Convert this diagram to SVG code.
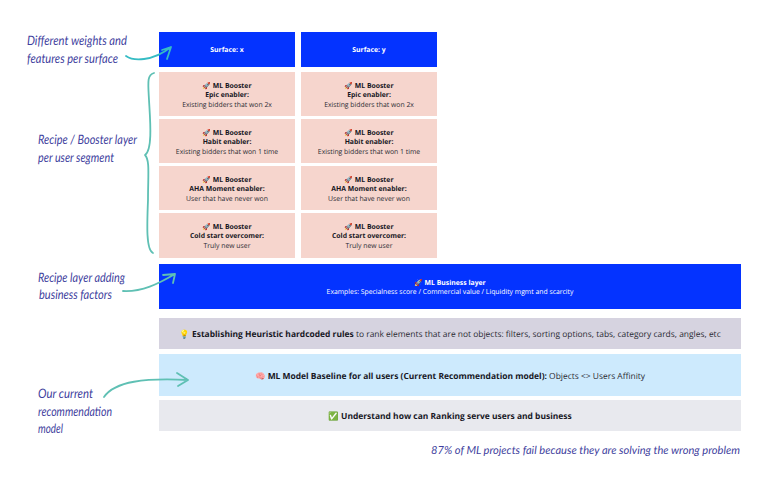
<svg xmlns="http://www.w3.org/2000/svg" width="768" height="488" viewBox="0 0 768 488">
<style>
text{font-family:"Open Sans","Noto Sans",sans-serif;text-anchor:middle;font-size:6.85px;fill:#2b2b33;text-rendering:geometricPrecision}
.b{font-weight:700;fill:#17171f}
.w{fill:#fff}
.l{font-size:8.45px}
.h{font-family:"Lato","Liberation Sans",sans-serif;font-style:italic;font-size:13px;fill:#3f3f9e;text-anchor:start}
.blue{fill:#0433ff}.pink{fill:#f6d5cd}
.c{fill:none;stroke:#5fc0b4;stroke-width:1.8;stroke-linecap:round;stroke-linejoin:round}
</style>
<rect width="768" height="488" fill="#fff"/>
<g id="surface-x"><rect class="blue" x="159" y="32" width="136" height="35"/><text class="b w" x="227" y="52">Surface: x</text></g>
<g id="surface-y"><rect class="blue" x="301" y="32" width="136" height="35"/><text class="b w" x="369" y="52">Surface: y</text></g>
<g id="x-epic"><rect class="pink" x="159" y="72" width="136" height="44"/><text class="b" x="227" y="87.500">🚀 ML Booster</text><text class="b" x="227" y="97">Epic enabler:</text><text x="227" y="106.500">Existing bidders that won 2x</text></g>
<g id="y-epic"><rect class="pink" x="301" y="72" width="136" height="44"/><text class="b" x="369" y="87.500">🚀 ML Booster</text><text class="b" x="369" y="97">Epic enabler:</text><text x="369" y="106.500">Existing bidders that won 2x</text></g>
<g id="x-habit"><rect class="pink" x="159" y="119" width="136" height="44"/><text class="b" x="227" y="134.500">🚀 ML Booster</text><text class="b" x="227" y="144">Habit enabler:</text><text x="227" y="153.500">Existing bidders that won 1 time</text></g>
<g id="y-habit"><rect class="pink" x="301" y="119" width="136" height="44"/><text class="b" x="369" y="134.500">🚀 ML Booster</text><text class="b" x="369" y="144">Habit enabler:</text><text x="369" y="153.500">Existing bidders that won 1 time</text></g>
<g id="x-aha"><rect class="pink" x="159" y="166" width="136" height="44"/><text class="b" x="227" y="181.500">🚀 ML Booster</text><text class="b" x="227" y="191">AHA Moment enabler:</text><text x="227" y="200.500">User that have never won</text></g>
<g id="y-aha"><rect class="pink" x="301" y="166" width="136" height="44"/><text class="b" x="369" y="181.500">🚀 ML Booster</text><text class="b" x="369" y="191">AHA Moment enabler:</text><text x="369" y="200.500">User that have never won</text></g>
<g id="x-cold"><rect class="pink" x="159" y="213" width="136" height="45"/><text class="b" x="227" y="228.500">🚀 ML Booster</text><text class="b" x="227" y="238">Cold start overcomer:</text><text x="227" y="247.500">Truly new user</text></g>
<g id="y-cold"><rect class="pink" x="301" y="213" width="136" height="45"/><text class="b" x="369" y="228.500">🚀 ML Booster</text><text class="b" x="369" y="238">Cold start overcomer:</text><text x="369" y="247.500">Truly new user</text></g>
<g id="business"><rect class="blue" x="159" y="264" width="582" height="45"/><text class="b w" x="450" y="284.500">🚀 ML Business layer</text><text class="w" x="450" y="293.500">Examples: Specialness score / Commercial value / Liquidity mgmt and scarcity</text></g>
<g id="heuristic"><rect x="159" y="318" width="582" height="31" fill="#d6d3e0"/><text class="l" x="450" y="336.500"><tspan>💡 </tspan><tspan class="b">Establishing Heuristic hardcoded rules</tspan> to rank elements that are not objects: filters, sorting options, tabs, category cards, angles, etc</text></g>
<g id="baseline"><rect x="159" y="354" width="582" height="42" fill="#cdeafd"/><text class="l" x="450" y="378.500"><tspan>🧠 </tspan><tspan class="b">ML Model Baseline for all users (Current Recommendation model):</tspan> Objects &lt;&gt; Users Affinity</text></g>
<g id="understand"><rect x="159" y="400" width="582" height="31" fill="#e8e9ee"/><text class="l b" x="450" y="419">✅ Understand how can Ranking serve users and business</text></g>
<g id="annotations">
<text class="h" x="27" y="45" textLength="100" lengthAdjust="spacingAndGlyphs">Different weights and</text>
<text class="h" x="27" y="63" textLength="91" lengthAdjust="spacingAndGlyphs">features per surface</text>
<text class="h" x="38" y="144" textLength="99" lengthAdjust="spacingAndGlyphs">Recipe / Booster layer</text>
<text class="h" x="38" y="162" textLength="76" lengthAdjust="spacingAndGlyphs">per user segment</text>
<text class="h" x="38" y="282" textLength="87" lengthAdjust="spacingAndGlyphs">Recipe layer adding</text>
<text class="h" x="39" y="299" textLength="73" lengthAdjust="spacingAndGlyphs">business factors</text>
<text class="h" x="38" y="398" textLength="55" lengthAdjust="spacingAndGlyphs">Our current</text>
<text class="h" x="38" y="416" textLength="74" lengthAdjust="spacingAndGlyphs">recommendation</text>
<text class="h" x="38" y="433" textLength="25" lengthAdjust="spacingAndGlyphs">model</text>
<text class="h" x="431" y="454" style="font-size:11.1px" textLength="309" lengthAdjust="spacingAndGlyphs">87% of ML projects fail because they are solving the wrong problem</text>
</g>
<g id="connectors">
<path class="c" style="stroke:#36bcc4" d="M126 56C133 61 152 62 171 47M162 50L171 47L167 59"/>
<path class="c" d="M154 73C147 75 148 82 149 100C150 118 153 150 145 155C150 160 148 175 148 200C147 225 146 250 153 253"/>
<path class="c" d="M123 291C142 292 158 284 175 274M163 275L175 274L173 283"/>
<path class="c" d="M104 397C115 381 145 378 188 380M177 373L188 380L178 386"/>
</g>
</svg>
